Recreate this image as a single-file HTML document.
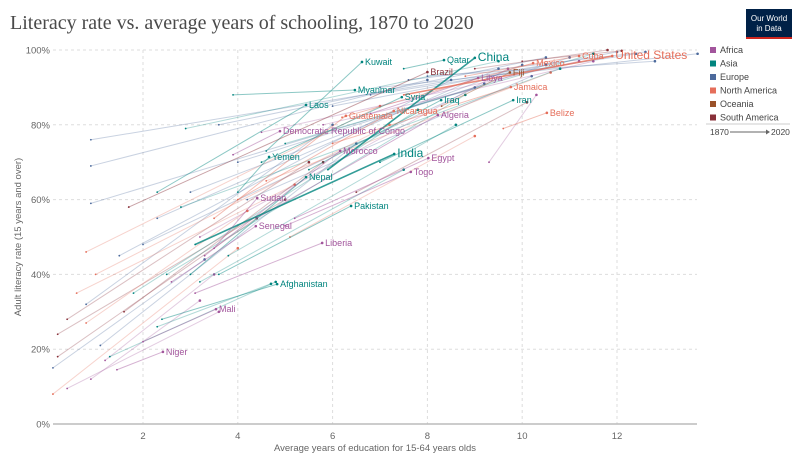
<!DOCTYPE html>
<html><head><meta charset="utf-8"><style>
body{margin:0;background:#fff;font-family:"Liberation Sans",sans-serif}
#wrap{position:relative;width:800px;height:466px;overflow:hidden}
</style></head><body>
<div id="wrap">
<svg id="svg" width="800" height="466" xmlns="http://www.w3.org/2000/svg">
<text x="10" y="29" font-family="Liberation Serif,serif" font-size="20" fill="#4a4a4a">Literacy rate vs. average years of schooling, 1870 to 2020</text>
<g>
<rect x="746" y="9" width="46" height="30" fill="#002147"/>
<rect x="746" y="37" width="46" height="2" fill="#ce261e"/>
<text x="769" y="21" font-size="8" fill="#fff" text-anchor="middle">Our World</text>
<text x="769" y="31" font-size="8" fill="#fff" text-anchor="middle">in Data</text>
</g>
<g id="grid"></g>
<g id="lines"></g>
<g id="labels"></g>
<g id="legend"></g>
<text x="375" y="451" font-size="9.5" fill="#666" text-anchor="middle">Average years of education for 15-64 years olds</text>
<text transform="translate(21,237) rotate(-90)" font-size="9.5" fill="#666" text-anchor="middle">Adult literacy rate (15 years and over)</text>
</svg>
</div>
<script>
const regions=["Africa","Asia","Europe","North America","Oceania","South America"];
const regionColors=["#a2559c","#00847e","#4c6a9c","#e56e5a","#9a5129","#883039"];
const xTicks=[2,4,6,8,10,12];
const yTicks=[0,20,40,60,80,100];
const labNames=["Kuwait","Qatar","China","Brazil","Myanmar","Laos","Libya","Fiji","Mexico","Cuba","United States","Syria","Iraq","Jamaica","Iran","Guatemala","Nicaragua","Algeria","Belize","Democratic Republic of Congo","Morocco","India","Egypt","Yemen","Togo","Nepal","Sudan","Pakistan","Senegal","Liberia","Afghanistan","Mali","Niger"];
const labRegion=[1,1,1,5,1,1,0,4,3,3,3,1,1,3,1,3,3,0,3,0,0,1,0,1,0,1,0,1,0,0,1,0,0];
const labStartX=[4.6,7.5,5.9,1.7,3.9,2.3,6.8,8.3,6.2,8.8,7.5,4.5,5.5,6.0,7.0,3.5,4.0,4.4,9.6,3.9,3.3,3.1,5.2,4.0,5.0,3.0,3.5,3.6,2.6,3.1,2.4,2.0,1.45];
const labStartY=[73,95,68,58,88,62,83,85,82,93,88,70,68,75,70,55,60,55,79,72,45,48,55,62,53,40,47,40,38,35,28,22,14.5];
const labEndX=[6.62,8.35,9.0,8.0,6.47,5.44,9.07,9.74,10.23,11.2,11.9,7.46,8.29,9.76,9.81,6.28,7.29,8.22,10.52,4.89,6.16,7.3,8.02,4.66,7.65,5.44,4.41,6.39,4.38,5.78,4.83,3.54,2.42];
const labEndY=[96.8,97.3,97.9,94.1,89.3,85.3,92.5,94,96.5,98.4,98.4,87.4,86.6,90.1,86.6,82.4,83.7,82.6,83.2,78.3,73,72.2,71.1,71.4,67.4,66,60.4,58.3,52.9,48.4,37.4,30.7,19.3];
const bigLabels=["China","India","United States"];
const otherRegion=[2,3,0,5,5,5,2,3,0,0,1,1,2,3,2,2,2,1,2,2,2,2,2,1,2,2,2,5,5,0,1,1,2,3,0,0,1,1,3,5,3,5,2,1,0,3,2,2];
const otherStartX=[0.1,0.1,0.4,0.2,0.2,0.4,0.8,0.6,0.9,1.2,1.3,2.3,1.1,0.8,0.9,0.9,0.9,2.9,3.6,1.5,2.3,3.0,4.0,5,6,7,8,9,10,3.2,2.5,1.8,4.2,4.6,5.8,9.3,3.8,3.2,5.1,6.5,0.8,1.6,2.0,2.8,4.5,1.0,6.8,7.6];
const otherStartY=[15,8,9.5,18,24,28,32,35,12,17,18,26,21,46,59,69,76,79,80,45,55,62,70,75,85,90,93,95,97,50,40,35,60,65,80,70,45,38,50,62,27,30,48,58,78,40,88,92];
const otherEndX=[3.3,4,3.6,4.4,5,5.5,6,5.2,3.2,3.5,4.8,4.7,6.5,7,9,8,10.5,9.5,10.5,8.5,9.5,10,11,11.5,12,13.7,12.8,11.8,12.1,9.7,8.8,7.8,10.2,10.6,11.5,10.3,8.6,7.5,9,10.1,4.2,5.8,9.2,10.8,11.2,7.2,12.4,12.6];
const otherEndY=[44,47,30,55,60,70,80,64,33,40,38,37.5,75,85,90,92,96,97,98,92,95,96,98,99,99.5,99,97,100,99.8,95,88,84,93,94,97,88,80,68,77,86,57,70,91,95,97,80,99,99.5];

const NS="http://www.w3.org/2000/svg";
const X0=53,X1=697,Y0=424,Y1=50;
const xs=v=>48.2+v*47.4;
const ys=v=>Y0-(v/100)*(Y0-Y1);
function el(t,a,p){const e=document.createElementNS(NS,t);for(const k in a)e.setAttribute(k,a[k]);p.appendChild(e);return e;}
const grid=document.getElementById('grid');
xTicks.forEach(t=>{
 const l=el('line',{x1:xs(t),x2:xs(t),y1:Y1,y2:Y0,stroke:'#ddd','stroke-dasharray':'3,3'},grid);
 
 
 const tx=el('text',{x:xs(t),y:439,'font-size':9.5,fill:'#666','text-anchor':'middle'},grid);tx.textContent=t;
 
 
});
yTicks.forEach(t=>{
 if(t>0){const l=el('line',{x1:X0,x2:X1,y1:ys(t),y2:ys(t),stroke:'#ddd','stroke-dasharray':'3,3'},grid);
 
 }
 const tx=el('text',{x:50,y:ys(t)+3.5,'font-size':9.5,fill:'#666','text-anchor':'end'},grid);tx.textContent=t+'%';
 
 
});
const ax=el('line',{x1:X0,x2:X1,y1:Y0,y2:Y0,stroke:'#bbb','stroke-width':1.5},grid);


const lines=document.getElementById('lines');
function drawLine(sx,sy,ex,ey,r,op,w){
 const c=regionColors[r];
 const g=el('g',{},lines);
 
 
 el('line',{x1:xs(sx),y1:ys(sy),x2:xs(ex),y2:ys(ey),stroke:c,'stroke-opacity':op,'stroke-width':w},g);
 el('circle',{cx:xs(sx),cy:ys(sy),r:0.9,fill:c},g);
 el('circle',{cx:xs(ex),cy:ys(ey),r:1.3,fill:c},g);
}
for(let i=0;i<otherStartX.length;i++)drawLine(otherStartX[i],otherStartY[i],otherEndX[i],otherEndY[i],otherRegion[i],0.3,1);
const labels=document.getElementById('labels');
for(let i=0;i<labNames.length;i++){
 const big=bigLabels.includes(labNames[i]);
 drawLine(labStartX[i],labStartY[i],labEndX[i],labEndY[i],labRegion[i],big?0.8:0.45,big?1.6:1);
 const t=el('text',{x:xs(labEndX[i])+3,y:ys(labEndY[i])+3,'font-size':big?12:9,fill:regionColors[labRegion[i]]},labels);
 t.textContent=labNames[i];
 
 
}
const lg=document.getElementById('legend');
regions.forEach((r,i)=>{
 const g=el('g',{},lg);
 
 
 el('rect',{x:710,y:47+i*13.5,width:6,height:6,fill:regionColors[i]},g);
 const t=el('text',{x:720,y:53+i*13.5,'font-size':9,fill:'#444'},g);t.textContent=r;
});
el('line',{x1:706,x2:790,y1:124,y2:124,stroke:'#ccc'},lg);
const ty=el('text',{x:710,y:135,'font-size':8.5,fill:'#444'},lg);ty.textContent='1870';
el('line',{x1:730,x2:766,y1:132,y2:132,stroke:'#666'},lg);
el('path',{d:'M766,129.5 L770,132 L766,134.5 Z',fill:'#666'},lg);
const ty2=el('text',{x:771,y:135,'font-size':8.5,fill:'#444'},lg);ty2.textContent='2020';
</script>
</body></html>
